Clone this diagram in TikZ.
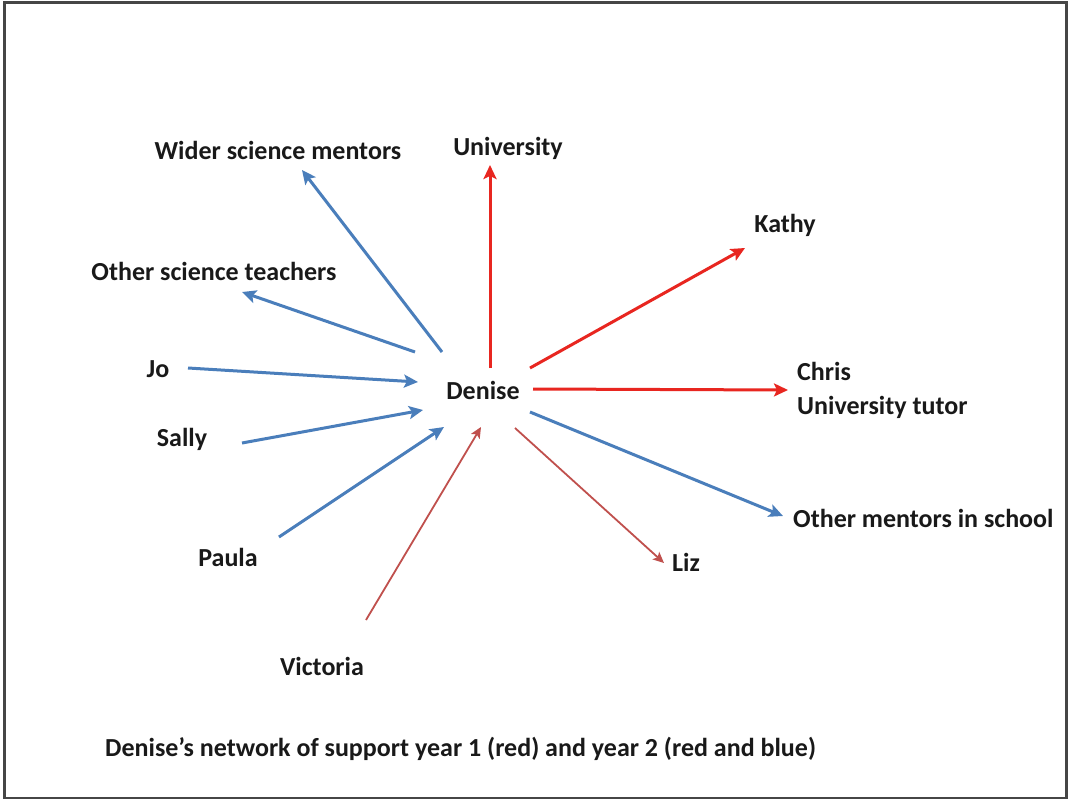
\documentclass[tikz,border=0pt]{standalone}
\usepackage{fontspec}
\setmainfont{Carlito}
\usetikzlibrary{arrows.meta}
\definecolor{yeartwo}{RGB}{74,126,187}
\definecolor{yearone}{RGB}{232,38,32}
\definecolor{yearonethin}{RGB}{192,80,77}
\definecolor{framegray}{RGB}{70,70,70}
\tikzset{
  lbl/.style={font=\bfseries\fontsize{26}{31}\selectfont, text=black!90, inner sep=0pt},
  bluearrow/.style={draw=yeartwo, line width=3pt, -{Stealth[length=14pt,width=13pt,inset=3pt]}},
  redarrow/.style={draw=yearone, line width=3pt, -{Stealth[length=14pt,width=13pt,inset=3pt]}},
  thinred/.style={draw=yearonethin, line width=1.8pt, -{Stealth[length=11pt,width=10pt,inset=2.5pt]}},
}
\begin{document}
\begin{tikzpicture}[x=1pt,y=-1pt]
\useasboundingbox (0,0) rectangle (1069,800);
\fill[white] (0,0) rectangle (1069,800);
\draw[framegray, line width=2.5pt] (4.5,2.5) rectangle (1066.5,798);

% labels
\node[lbl] (denise) at (483,390) {Denise};
\node[lbl] (wider) at (278,150) {Wider science mentors};
\node[lbl] (univ) at (508,148) {University};
\node[lbl] (kathy) at (785,225) {Kathy};
\node[lbl, anchor=west, align=left] (chris) at (797,390) {Chris\\[3pt]University tutor};
\node[lbl, anchor=west] (others) at (793,518) {Other mentors in school};
\node[lbl] (liz) at (686,562) {Liz};
\node[lbl] (victoria) at (322,666) {Victoria};
\node[lbl] (paula) at (228,557) {Paula};
\node[lbl] (sally) at (182,439) {Sally};
\node[lbl] (jo) at (158,369) {Jo};
\node[lbl] (ost) at (214,271) {Other science teachers};
\node[lbl, anchor=west] (caption) at (105,749) {Denise’s network of support year 1 (red) and year 2 (red and blue)};

% arrow end points
\coordinate (wider-s) at (442,352);  \coordinate (wider-e) at (302,170);
\coordinate (univ-s) at (490,368);   \coordinate (univ-e) at (490,165);
\coordinate (kathy-s) at (530,368);  \coordinate (kathy-e) at (745,248);
\coordinate (chris-s) at (533,389);  \coordinate (chris-e) at (788,390);
\coordinate (others-s) at (530,412); \coordinate (others-e) at (783,516);
\coordinate (liz-s) at (515,428);    \coordinate (liz-e) at (664,563);
\coordinate (vic-s) at (366,620);    \coordinate (vic-e) at (481,427);
\coordinate (paula-s) at (279,537);  \coordinate (paula-e) at (444,427);
\coordinate (sally-s) at (242,443);  \coordinate (sally-e) at (423,410);
\coordinate (jo-s) at (188,368);     \coordinate (jo-e) at (418,382);
\coordinate (ost-s) at (415,352);    \coordinate (ost-e) at (242,292);

% year 1 (red)
\draw[redarrow] (univ-s) -- (univ-e);
\draw[redarrow] (kathy-s) -- (kathy-e);
\draw[redarrow] (chris-s) -- (chris-e);
\draw[thinred] (liz-s) -- (liz-e);
\draw[thinred] (vic-s) -- (vic-e);

% year 2 (blue)
\draw[bluearrow] (wider-s) -- (wider-e);
\draw[bluearrow] (ost-s) -- (ost-e);
\draw[bluearrow] (jo-s) -- (jo-e);
\draw[bluearrow] (sally-s) -- (sally-e);
\draw[bluearrow] (paula-s) -- (paula-e);
\draw[bluearrow] (others-s) -- (others-e);
\end{tikzpicture}
\end{document}
